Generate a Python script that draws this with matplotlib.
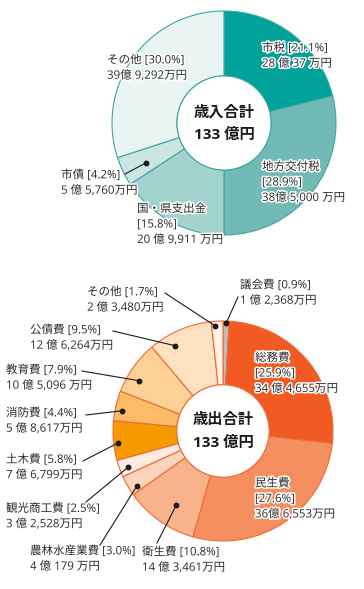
import matplotlib
matplotlib.use('Agg')
import matplotlib.pyplot as plt
import matplotlib.patheffects as pe
from matplotlib.patches import Circle
import numpy as np

plt.rcParams['font.family'] = ['Open Sans', 'Noto Sans CJK JP', 'DejaVu Sans']

# ---------------- data ----------------
rev_names = ['市税', '地方交付税', '国・県支出金', '市債', 'その他']
rev_pct = [21.1, 28.9, 15.8, 4.2, 30.0]
rev_amount = ['28 億 37 万円', '38億 5,000 万円', '20 億 9,911 万円', '5 億 5,760万円', '39億 9,292万円']
rev_title = '歳入合計'
rev_total = '133 億円'

exp_names = ['議会費', '総務費', '民生費', '衛生費', '農林水産業費', '観光商工費',
             '土木費', '消防費', '教育費', '公債費', 'その他']
exp_pct = [0.9, 25.9, 27.6, 10.8, 3.0, 2.5, 5.8, 4.4, 7.9, 9.5, 1.7]
exp_amount = ['1 億 2,368万円', '34 億 4,655万円', '36億 6,553万円', '14 億 3,461万円',
              '4 億 179 万円', '3 億 2,528万円', '7 億 6,799万円', '5 億 8,617万円',
              '10 億 5,096 万円', '12 億 6,264万円', '2 億 3,480万円']
exp_title = '歳出合計'
exp_total = '133 億円'

# ---------------- styles / layout ----------------
W, H = 364, 589
rev_colors = ['#00A29A', '#72BAB6', '#A3D3CF', '#CAE5E2', '#EAF4F3']
rev_edge = '#3AA79F'
exp_colors = ['#BDBDBD', '#F15A22', '#F68F5F', '#F9B38B', '#FCD3BC', '#FEECE2',
              '#F59B00', '#FBBB67', '#FDD196', '#FEE1C0', '#FFF2E6']
exp_edge = '#EF6A34'
text_color = '#2B2B2B'

rev_center = (224, 123); rev_R = 112
exp_center = (223, 431); exp_R = 110
hole = 0.42

# label layout: (x_left_px, y_center_px, split_pct_to_own_line)
rev_layout = [(262, 55.5, False), (262, 182, True), (137, 224, True),
              (61, 182.5, False), (107, 67.5, False)]
# leaders: (label_end_x, label_end_y, angular_fraction, radial_fraction) or None
rev_leader = [None, None, None, (125, 174, 0.6, 0.78), None]

exp_layout = [(240, 292.5, False), (255, 373, True), (255, 498.5, True),
              (142, 559.5, False), (30, 558.5, False), (6, 516, False),
              (6, 467, False), (6, 420.5, False), (6, 377.5, False),
              (30, 337.5, False), (87, 299.5, False)]
exp_leader = [(238, 297, 0.5, 0.98), None, None, (157, 543, 0.58, 0.80),
              (100, 545, 0.75, 0.93), (86, 502, 0.59, 0.92), (83, 461, 0.57, 0.96),
              (86, 415, 0.63, 0.94), (82, 371, 0.66, 0.89), (113, 331, 0.68, 0.89),
              (165, 293, 0.72, 0.96)]

fs_label = 8.3
fs_center = 11.0
halo = [pe.withStroke(linewidth=2.2, foreground='white')]

fig = plt.figure(figsize=(W / 100, H / 100), dpi=100)
ax = fig.add_axes([0, 0, 1, 1])


def P(x, y):
    return x, H - y


def donut(names, pct, amounts, colors, edge, center, R, layout, leaders, title, total):
    c = P(*center)
    wedges, _ = ax.pie(pct, colors=colors, startangle=90, counterclock=False,
                       center=c, radius=R,
                       wedgeprops=dict(width=R * (1 - hole), edgecolor=edge, linewidth=0.8))
    ax.add_patch(Circle(c, R * hole, facecolor='white', edgecolor=edge, linewidth=0.8, zorder=3))
    ax.text(c[0], c[1] + 11, title, ha='center', va='center', fontsize=fs_center,
            fontweight='bold', color='#1A1A1A', zorder=4)
    ax.text(c[0], c[1] - 12, total, ha='center', va='center', fontsize=fs_center,
            fontweight='bold', color='#1A1A1A', zorder=4)
    for w, n, p, a, lay, ld in zip(wedges, names, pct, amounts, layout, leaders):
        x, y, split = lay
        sep = '\n' if split else ' '
        txt = f'{n}{sep}[{p:.1f}%]\n{a}'
        ax.text(*P(x, y), txt, ha='left', va='center', fontsize=fs_label,
                color=text_color, linespacing=1.24, path_effects=halo, zorder=5)
        if ld is not None:
            lx, ly, fa, fr = ld
            th = np.deg2rad(w.theta1 + fa * (w.theta2 - w.theta1))
            dx = c[0] + fr * R * np.cos(th)
            dy = c[1] + fr * R * np.sin(th)
            ax.plot([P(lx, ly)[0], dx], [P(lx, ly)[1], dy], color='#1A1A1A', lw=0.8, zorder=6)
            ax.plot([dx], [dy], 'o', color='#1A1A1A', ms=3.2, zorder=7)


donut(rev_names, rev_pct, rev_amount, rev_colors, rev_edge, rev_center, rev_R,
      rev_layout, rev_leader, rev_title, rev_total)
donut(exp_names, exp_pct, exp_amount, exp_colors, exp_edge, exp_center, exp_R,
      exp_layout, exp_leader, exp_title, exp_total)

ax.set_xlim(0, W)
ax.set_ylim(0, H)
ax.set_aspect('auto')
ax.axis('off')
fig.savefig('out.png', dpi=100)
